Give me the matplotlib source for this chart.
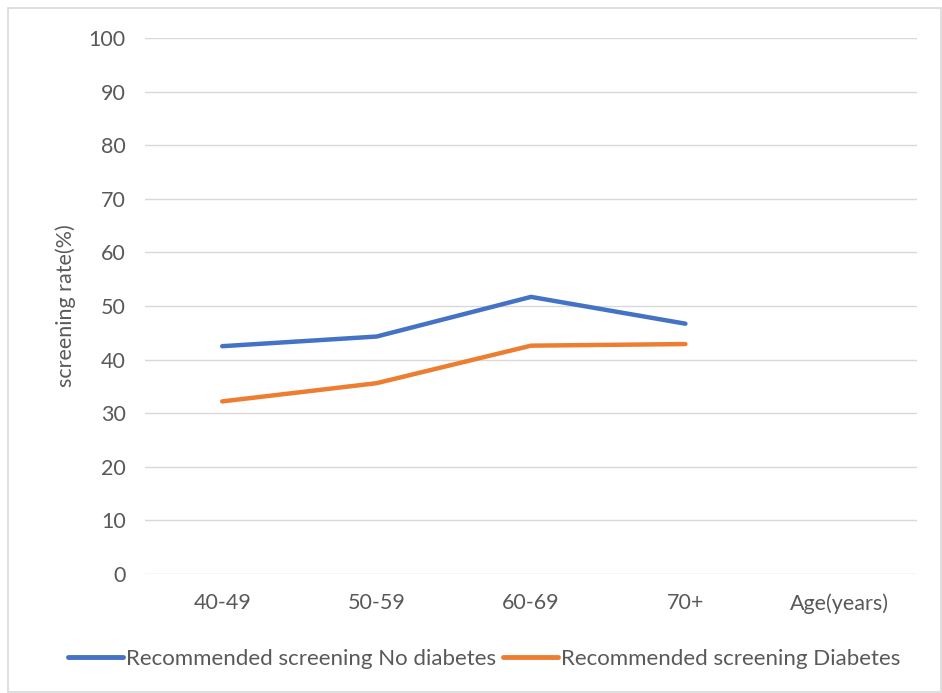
import matplotlib
matplotlib.use("Agg")
import matplotlib.pyplot as plt
from matplotlib.patches import Rectangle

categories = ["40-49", "50-59", "60-69", "70+", "Age(years)"]
no_diabetes = [42.5, 44.3, 51.7, 46.7]
diabetes = [32.2, 35.6, 42.6, 42.9]
y_ticks = [0, 10, 20, 30, 40, 50, 60, 70, 80, 90, 100]

plt.rcParams["font.family"] = ["Lato", "DejaVu Sans"]
text_color = "#595959"
fs = 15.5

fig = plt.figure(figsize=(9.42, 6.93), dpi=100)
fig.patches.append(Rectangle((8 / 942, 1 / 693), 933 / 942, 684 / 693,
                             transform=fig.transFigure, fill=False,
                             edgecolor="#D9D9D9", linewidth=1.2))
ax = fig.add_axes([145 / 942, 1 - 574 / 693, 772 / 942, 536 / 693])

x = list(range(len(categories)))
ax.plot(x[:len(no_diabetes)], no_diabetes, color="#4472C4", lw=3.2,
        solid_capstyle="round", solid_joinstyle="round",
        label="Recommended screening No diabetes")
ax.plot(x[:len(diabetes)], diabetes, color="#ED7D31", lw=3.2,
        solid_capstyle="round", solid_joinstyle="round",
        label="Recommended screening Diabetes")

ax.set_xlim(-0.5, len(categories) - 0.5)
ax.set_ylim(0, 100)
ax.set_xticks(x)
ax.set_xticklabels(categories)
ax.set_yticks(y_ticks)
ax.grid(axis="y", color="#D9D9D9", linewidth=1)
ax.set_axisbelow(True)
for s in ax.spines.values():
    s.set_visible(False)
ax.tick_params(axis="both", length=0, labelsize=fs, colors=text_color)
ax.tick_params(axis="x", pad=14)
ax.tick_params(axis="y", pad=14)
ax.set_ylabel("screening rate(%)", fontsize=fs, color=text_color, labelpad=9)

leg = fig.legend(loc="center", bbox_to_anchor=(484 / 942, 1 - 659 / 693),
                 ncol=2, frameon=False, fontsize=16, handlelength=2.5,
                 handletextpad=0.12, columnspacing=0.3)
for t in leg.get_texts():
    t.set_color(text_color)
for h in leg.get_lines():
    h.set_linewidth(3.5)

fig.savefig("out.png", dpi=100)
